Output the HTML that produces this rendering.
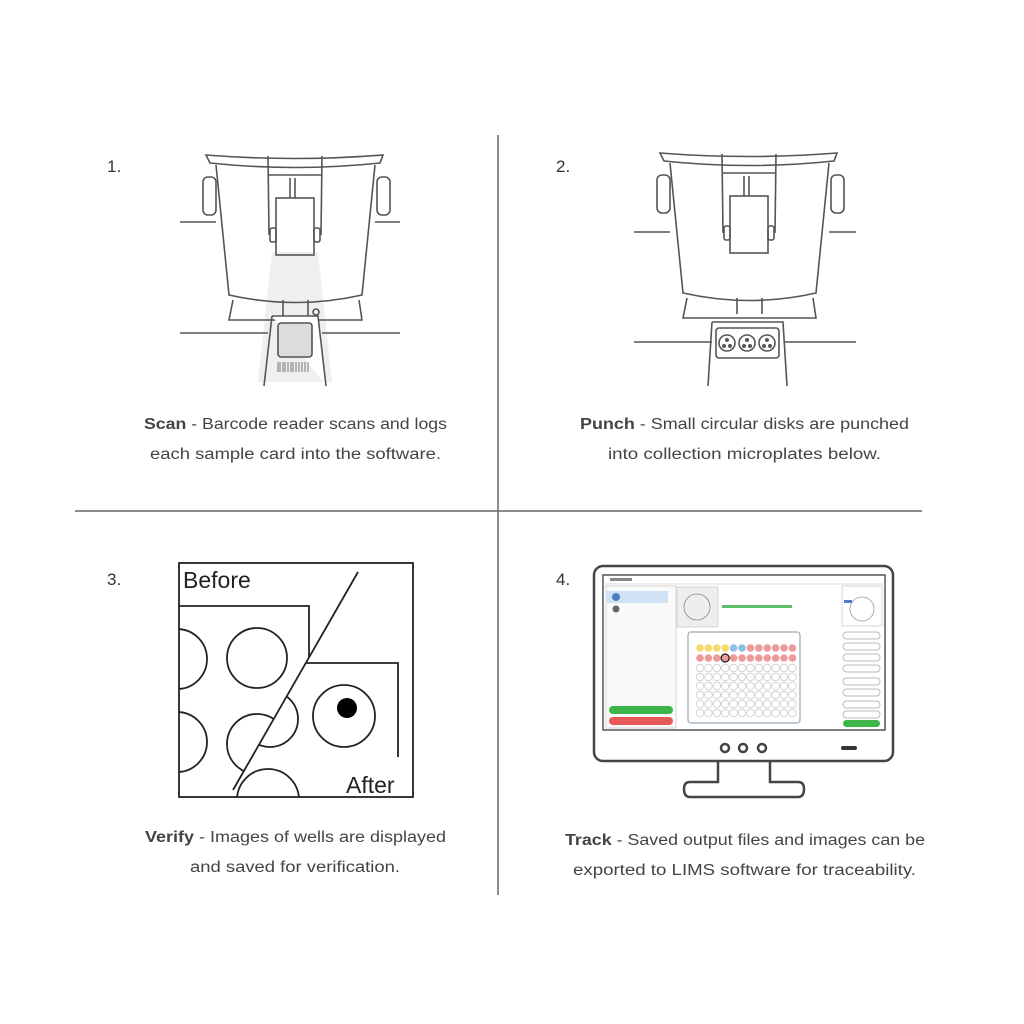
<!DOCTYPE html>
<html><head><meta charset="utf-8"><style>
html,body{margin:0;padding:0;background:#fff;}
svg{display:block;}
text{font-family:"Liberation Sans",sans-serif;}
</style></head><body>
<svg width="1024" height="1024" viewBox="0 0 1024 1024" xmlns="http://www.w3.org/2000/svg">
<defs>
<clipPath id="cb"><polygon points="179,563 363,563 229,797 179,797"/></clipPath>
<clipPath id="ca"><polygon points="363,563 413,563 413,797 229,797"/></clipPath>
<clipPath id="box"><rect x="179" y="563" width="234" height="234"/></clipPath>
<g id="mach" fill="none" stroke="#555" stroke-width="1.6">
  <path d="M206,155 Q295,162 383,155 L380,163 Q295,172 210,163 Z"/>
  <path d="M216,165 L229,295 Q296,310 362,295 L375,165"/>
  <rect x="203" y="177" width="13" height="38" rx="5"/>
  <rect x="377" y="177" width="13" height="38" rx="5"/>
  <line x1="268" y1="156" x2="269" y2="235"/>
  <line x1="322" y1="156" x2="321" y2="235"/>
  <line x1="269" y1="175" x2="321" y2="175"/>
  <line x1="290" y1="178" x2="290" y2="198"/><line x1="295" y1="178" x2="295" y2="198"/>
  <rect x="276" y="198" width="38" height="57"/>
  <rect x="270" y="228" width="6" height="14" rx="2"/><rect x="314" y="228" width="6" height="14" rx="2"/>
  <path d="M233,300 L229,320 L362,320 L359,300"/>
  <line x1="283" y1="300" x2="283" y2="316"/><line x1="308" y1="300" x2="308" y2="316"/>
</g>
<g id="wrow" stroke="#ccc" stroke-width="0.8">
<circle cx="700" cy="0" r="3.8"/><circle cx="708.4" cy="0" r="3.8"/><circle cx="716.8" cy="0" r="3.8"/><circle cx="725.2" cy="0" r="3.8"/><circle cx="733.6" cy="0" r="3.8"/><circle cx="742" cy="0" r="3.8"/><circle cx="750.4" cy="0" r="3.8"/><circle cx="758.8" cy="0" r="3.8"/><circle cx="767.2" cy="0" r="3.8"/><circle cx="775.6" cy="0" r="3.8"/><circle cx="784" cy="0" r="3.8"/><circle cx="792.4" cy="0" r="3.8"/>
</g>
</defs>

<line x1="498" y1="135" x2="498" y2="895" stroke="#666" stroke-width="1.5"/>
<line x1="75" y1="511" x2="922" y2="511" stroke="#666" stroke-width="1.5"/>

<g font-size="17" fill="#333">
<text x="107" y="172">1.</text><text x="556" y="172">2.</text>
<text x="107" y="585">3.</text><text x="556" y="585">4.</text>
</g>

<!-- Panel 1 -->
<polygon points="272,252 318,252 332,382 258,382" fill="#eef0ef"/>
<use href="#mach"/>
<g stroke="#555" stroke-width="1.6" fill="none">
<line x1="180" y1="222" x2="216" y2="222"/><line x1="375" y1="222" x2="400" y2="222"/>
<line x1="180" y1="333" x2="268" y2="333"/><line x1="322" y1="333" x2="400" y2="333"/>
<path d="M272,316 L318,316 L326,386 M264,386 L272,316" fill="#fff"/>
<rect x="278" y="323" width="34" height="34" rx="3" fill="#dcdcdc"/>
<circle cx="316" cy="312" r="3"/>
</g>
<g stroke="#777" stroke-width="1">
<path d="M278,362v10M280,362v10M283,362v10M285,362v10M288,362v10M291,362v10M293,362v10M296,362v10M299,362v10M302,362v10M305,362v10M308,362v10"/>
</g>

<!-- Panel 2 -->
<g transform="translate(454,-2)"><use href="#mach"/></g>
<g stroke="#555" stroke-width="1.6" fill="none">
<line x1="634" y1="232" x2="670" y2="232"/><line x1="829" y1="232" x2="856" y2="232"/>
<line x1="634" y1="342" x2="712" y2="342"/><line x1="784" y1="342" x2="856" y2="342"/>
<path d="M712,322 L783,322 L787,386 M708,386 L712,322" fill="#fff"/>
<rect x="716" y="328" width="63" height="30" rx="3" fill="#fff"/>
<circle cx="727" cy="343" r="8"/><circle cx="747" cy="343" r="8"/><circle cx="767" cy="343" r="8"/>
</g>
<g fill="#555">
<circle cx="727" cy="340" r="2"/><circle cx="724" cy="346" r="2"/><circle cx="730" cy="346" r="2"/>
<circle cx="747" cy="340" r="2"/><circle cx="744" cy="346" r="2"/><circle cx="750" cy="346" r="2"/>
<circle cx="767" cy="340" r="2"/><circle cx="764" cy="346" r="2"/><circle cx="770" cy="346" r="2"/>
</g>

<!-- Panel 3 -->
<g stroke="#222" stroke-width="1.8" fill="none">
<g clip-path="url(#cb)">
 <polyline points="179,606 309,606 309,670"/>
 <circle cx="177" cy="659" r="30"/><circle cx="257" cy="658" r="30"/>
 <circle cx="177" cy="742" r="30"/><circle cx="257" cy="744" r="30"/>
</g>
<g clip-path="url(#ca)">
 <polyline points="300,663 398,663 398,757"/>
 <circle cx="270" cy="719" r="28"/><circle cx="344" cy="716" r="31"/>
 <g clip-path="url(#box)"><circle cx="268" cy="800" r="31"/><circle cx="346" cy="806" r="32"/></g>
</g>
<line x1="358" y1="572" x2="233" y2="790"/>
</g>
<rect x="300" y="772" width="100" height="26" fill="#fff"/>
<rect x="179" y="563" width="234" height="234" fill="none" stroke="#222" stroke-width="1.8"/>
<circle cx="347" cy="708" r="10" fill="#000"/>
<text x="183" y="588" font-size="23" fill="#222">Before</text>
<text x="346" y="793" font-size="23" fill="#222">After</text>

<!-- Panel 4 monitor -->
<g fill="none" stroke="#444" stroke-width="2.5">
<rect x="594" y="566" width="299" height="195" rx="9"/>
<path d="M718,761 V782 H690 Q684,782 684,789 Q684,797 690,797 H798 Q804,797 804,789 Q804,782 798,782 H770 V761"/>
<circle cx="725" cy="748" r="4"/><circle cx="743" cy="748" r="4"/><circle cx="762" cy="748" r="4"/>
</g>
<rect x="841" y="746" width="16" height="4" rx="2" fill="#333"/>
<rect x="603" y="575" width="282" height="155" fill="#fff" stroke="#555" stroke-width="1.5"/>
<g stroke="#ccc" stroke-width="0.8" fill="none">
<line x1="603" y1="584" x2="885" y2="584"/>
<rect x="606" y="586" width="70" height="142" fill="#fafafa"/>
<rect x="677" y="587" width="41" height="40" fill="#eee"/>
<circle cx="697" cy="607" r="13" stroke="#888"/>
<rect x="842" y="586" width="40" height="40"/>
<circle cx="862" cy="609" r="12" stroke="#999"/>
<rect x="688" y="632" width="112" height="91" rx="3" stroke="#9aa7b8" stroke-width="1.2"/>
</g>
<rect x="606" y="591" width="62" height="12" fill="#cfe3f5"/>
<circle cx="616" cy="597" r="4" fill="#4f7fc2"/>
<circle cx="616" cy="609" r="3.5" fill="#666"/>
<rect x="609" y="706" width="64" height="8" rx="4" fill="#3cb54a"/>
<rect x="609" y="717" width="64" height="8" rx="4" fill="#e85a5a"/>
<rect x="722" y="605" width="70" height="3" fill="#5fbf6a"/>
<rect x="610" y="578" width="22" height="3" fill="#888"/>
<rect x="844" y="600" width="8" height="3" fill="#4f7fc2"/>
<g fill="#fff" stroke="#bbb" stroke-width="1">
<rect x="843" y="632" width="37" height="7" rx="3.5"/><rect x="843" y="643" width="37" height="7" rx="3.5"/>
<rect x="843" y="654" width="37" height="7" rx="3.5"/><rect x="843" y="665" width="37" height="7" rx="3.5"/>
<rect x="843" y="678" width="37" height="7" rx="3.5"/><rect x="843" y="689" width="37" height="7" rx="3.5"/>
<rect x="843" y="701" width="37" height="7" rx="3.5"/><rect x="843" y="711" width="37" height="7" rx="3.5"/>
</g>
<rect x="843" y="720" width="37" height="7" rx="3.5" fill="#3cb54a"/>
<!-- wells -->
<g stroke="none">
<g fill="#f7d96a"><circle cx="700" cy="648" r="3.8"/><circle cx="708.4" cy="648" r="3.8"/><circle cx="716.8" cy="648" r="3.8"/><circle cx="725.2" cy="648" r="3.8"/></g>
<g fill="#8cbfe6"><circle cx="733.6" cy="648" r="3.8"/><circle cx="742" cy="648" r="3.8"/></g>
<g fill="#ef9a9a"><circle cx="750.4" cy="648" r="3.8"/><circle cx="758.8" cy="648" r="3.8"/><circle cx="767.2" cy="648" r="3.8"/><circle cx="775.6" cy="648" r="3.8"/><circle cx="784" cy="648" r="3.8"/><circle cx="792.4" cy="648" r="3.8"/>
<circle cx="700" cy="658" r="3.8"/><circle cx="708.4" cy="658" r="3.8"/><circle cx="716.8" cy="658" r="3.8"/><circle cx="725.2" cy="658" r="3.8"/><circle cx="733.6" cy="658" r="3.8"/><circle cx="742" cy="658" r="3.8"/><circle cx="750.4" cy="658" r="3.8"/><circle cx="758.8" cy="658" r="3.8"/><circle cx="767.2" cy="658" r="3.8"/><circle cx="775.6" cy="658" r="3.8"/><circle cx="784" cy="658" r="3.8"/><circle cx="792.4" cy="658" r="3.8"/></g>
</g>
<circle cx="725.2" cy="658" r="4" fill="none" stroke="#222" stroke-width="1.3"/>
<g fill="#fff">
<use href="#wrow" y="668"/><use href="#wrow" y="677"/><use href="#wrow" y="686"/>
<use href="#wrow" y="695"/><use href="#wrow" y="704"/><use href="#wrow" y="713"/>
</g>

<!-- captions -->
<g font-size="15.5" fill="#444">
<text x="144" y="429" textLength="303" lengthAdjust="spacingAndGlyphs"><tspan font-weight="bold">Scan</tspan> - Barcode reader scans and logs</text>
<text x="150" y="459" textLength="291" lengthAdjust="spacingAndGlyphs">each sample card into the software.</text>
<text x="580" y="429" textLength="329" lengthAdjust="spacingAndGlyphs"><tspan font-weight="bold">Punch</tspan> - Small circular disks are punched</text>
<text x="608" y="459" textLength="273" lengthAdjust="spacingAndGlyphs">into collection microplates below.</text>
<text x="145" y="842" textLength="301" lengthAdjust="spacingAndGlyphs"><tspan font-weight="bold">Verify</tspan> - Images of wells are displayed</text>
<text x="190" y="872" textLength="210" lengthAdjust="spacingAndGlyphs">and saved for verification.</text>
<text x="565" y="845" textLength="360" lengthAdjust="spacingAndGlyphs"><tspan font-weight="bold">Track</tspan> - Saved output files and images can be</text>
<text x="573" y="875" textLength="343" lengthAdjust="spacingAndGlyphs">exported to LIMS software for traceability.</text>
</g>
</svg>
</body></html>
